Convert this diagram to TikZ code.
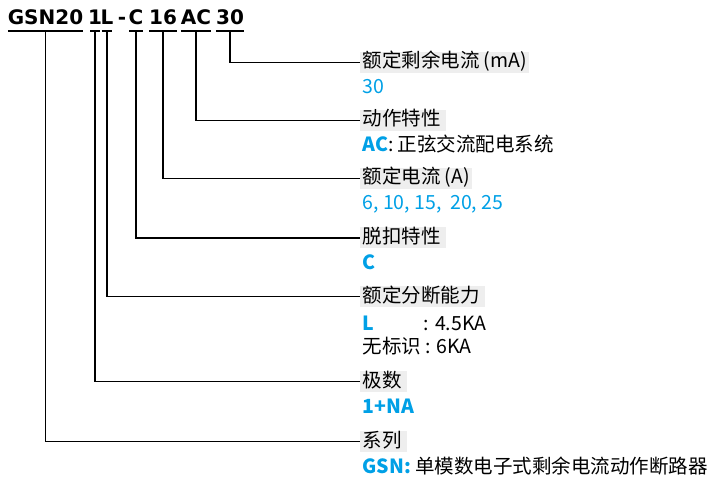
\documentclass[tikz,border=0pt]{standalone}
\usepackage{fontspec}
\setmainfont{Noto Sans CJK SC}
\newfontfamily\codefont{DejaVu Sans}
\usetikzlibrary{positioning}
\definecolor{keyblue}{RGB}{0,160,230}
\definecolor{tagfill}{RGB}{238,238,238}
\begin{document}
\begin{tikzpicture}[x=1bp,y=-1bp,
  every node/.style={inner sep=0pt,outer sep=0pt,text height=15.5bp,text depth=4.5bp},
  seg/.style={font=\codefont\bfseries\fontsize{20bp}{24bp}\selectfont,anchor=base,text depth=0pt,inner ysep=6bp},
  tag/.style={font=\fontsize{19.5bp}{23bp}\selectfont,fill=tagfill,anchor=west,inner xsep=2.5bp,inner ysep=0.5bp},
  sub/.style={font=\fontsize{19.5bp}{23bp}\selectfont},
  key/.style={font=\bfseries\fontsize{19.5bp}{23bp}\selectfont,text=keyblue},
  lead/.style={line width=1.3bp}]
  \useasboundingbox (0,0) rectangle (709,478);
  % model code
  \node[seg] (s-gsn) at (45.5,25) {GSN20};
  \node[seg,inner xsep=-2bp] (s-pole) at (95,25) {1};
  \node[seg,inner xsep=-1bp] (s-cap) at (107,25) {L};
  \node[seg] (s-dash) at (122,25) {-};
  \node[seg,inner xsep=-0.5bp] (s-trip) at (136,25) {C};
  \node[seg] (s-rated) at (163,25) {16};
  \node[seg] (s-type) at (196,25) {AC};
  \node[seg] (s-res) at (230,25) {30};
  \draw[lead] (s-gsn.south west) -- (s-gsn.south east);
  \draw[lead] (s-pole.south west) -- (s-pole.south east);
  \draw[lead] (s-cap.south west) -- (s-cap.south east);
  \draw[lead] (s-trip.south west) -- (s-trip.south east);
  \draw[lead] (s-rated.south west) -- (s-rated.south east);
  \draw[lead] (s-type.south west) -- (s-type.south east);
  \draw[lead] (s-res.south west) -- (s-res.south east);
  % headings
  \node[tag] (t-res) at (360,62.5) {额定剩余电流 (mA)};
  \node[tag] (t-type) at (360,120.5) {动作特性\,};
  \node[tag] (t-rated) at (360,178.5) {额定电流 (A)};
  \node[tag] (t-trip) at (360,238) {脱扣特性\,};
  \node[tag] (t-cap) at (360,296.5) {额定分断能力\,};
  \node[tag] (t-pole) at (360,381.5) {极数\,};
  \node[tag] (t-gsn) at (360,441.5) {系列\,};
  % values
  \node[sub,text=keyblue,below right=5.5bp and 2.5bp of t-res.south west] (v-res) {30};
  \node[sub,below right=5.5bp and 2.5bp of t-type.south west] (v-type) {\textcolor{keyblue}{\bfseries AC}: 正弦交流配电系统};
  \node[sub,text=keyblue,below right=5.5bp and 2.5bp of t-rated.south west] (v-rated) {6, 10, 15,\ \ 20, 25};
  \node[sub,key,below right=5.5bp and 2.5bp of t-trip.south west] (v-trip) {C};
  \node[sub,below right=8bp and 2.5bp of t-cap.south west] (v-cap) {\makebox[3.15em][l]{\textcolor{keyblue}{\bfseries L}}: 4.5KA};
  \node[sub,below right=3bp and 0bp of v-cap.south west] (v-cap2) {无标识 : 6KA};
  \node[sub,key,below right=5.5bp and 2.5bp of t-pole.south west] (v-pole) {1+NA};
  \node[sub,below right=5.5bp and 2.5bp of t-gsn.south west] (v-gsn) {\textcolor{keyblue}{\bfseries GSN:} 单模数电子式剩余电流动作断路器};
  % leaders
  \draw[lead] (s-res.south) |- (t-res.west);
  \draw[lead] (s-type.south) |- (t-type.west);
  \draw[lead] (s-rated.south) |- (t-rated.west);
  \draw[lead] (s-trip.south) |- (t-trip.west);
  \draw[lead] (s-cap.south) |- (t-cap.west);
  \draw[lead] (s-pole.south) |- (t-pole.west);
  \draw[lead] (s-gsn.south) |- (t-gsn.west);
\end{tikzpicture}
\end{document}
